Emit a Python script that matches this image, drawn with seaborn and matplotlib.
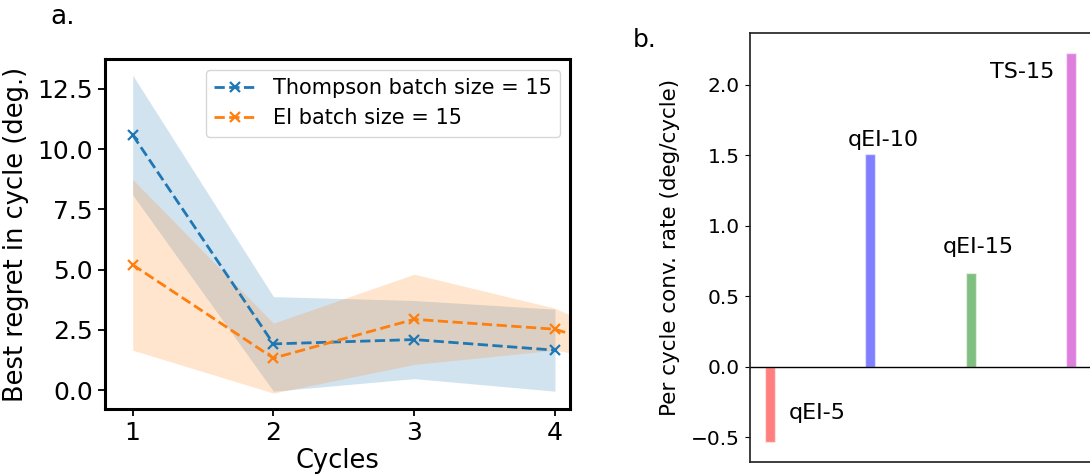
import numpy as np
import pandas as pd
import matplotlib
matplotlib.use("Agg")
import matplotlib.pyplot as plt
import seaborn as sns

# ---------------- data ----------------
cycles_ts = [1, 2, 3, 4]
ts_mean = [10.58, 1.92, 2.10, 1.66]
ts_std = [2.48, 1.96, 1.62, 1.70]

cycles_ei = [1, 2, 3, 4, 5]
ei_mean = [5.20, 1.33, 2.94, 2.53, 0.70]
ei_std = [3.54, 1.45, 1.87, 0.87, 0.10]

ts_label = "Thompson batch size = 15"
ei_label = "EI batch size = 15"

methods = ["qEI-5", "qEI-10", "qEI-15", "TS-15"]
rates = [-0.535, 1.508, 0.667, 2.227]
bar_colors = ["red", "blue", "green", "m"]

# annotation offsets relative to each bar top (layout only)
label_dx = [0.18, -0.224, -0.274, -0.807]
label_dy = [0.166, 0.057, 0.137, -0.184]

# ---------------- figure ----------------
sns.set_style("white")
plt.rcParams["font.family"] = ["DejaVu Sans"]
plt.rcParams["text.color"] = "black"
plt.rcParams["axes.labelcolor"] = "black"
plt.rcParams["xtick.color"] = "black"
plt.rcParams["ytick.color"] = "black"

fig = plt.figure(figsize=(10.9, 4.74), dpi=100)
ax1 = fig.add_axes([0.0959, 0.1371, 0.4272, 0.7378])
ax2 = fig.add_axes([0.6878, 0.0260, 0.3135, 0.9043])

c_ts = "#1f77b4"
c_ei = "#ff7f0e"

df_ts = pd.DataFrame({"cycle": cycles_ts, "regret": ts_mean})
df_ei = pd.DataFrame({"cycle": cycles_ei, "regret": ei_mean})

ts_lo = np.array(ts_mean) - np.array(ts_std)
ts_hi = np.array(ts_mean) + np.array(ts_std)
ei_lo = np.array(ei_mean) - np.array(ei_std)
ei_hi = np.array(ei_mean) + np.array(ei_std)

ax1.fill_between(cycles_ts, ts_lo, ts_hi, color=c_ts, alpha=0.2, linewidth=0)
ax1.fill_between(cycles_ei, ei_lo, ei_hi, color=c_ei, alpha=0.2, linewidth=0)

sns.lineplot(data=df_ts, x="cycle", y="regret", ax=ax1, color=c_ts,
             linestyle="--", marker="x", markersize=7, markeredgewidth=1.6,
             markeredgecolor=c_ts, markerfacecolor=c_ts,
             linewidth=2.0, label=ts_label, errorbar=None)
sns.lineplot(data=df_ei, x="cycle", y="regret", ax=ax1, color=c_ei,
             linestyle="--", marker="x", markersize=7, markeredgewidth=1.6,
             markeredgecolor=c_ei, markerfacecolor=c_ei,
             linewidth=2.0, label=ei_label, errorbar=None)

ax1.set_xlim(0.8, 4.108)
ax1.set_xticks(cycles_ts)
ax1.set_yticks([0.0, 2.5, 5.0, 7.5, 10.0, 12.5])
ax1.set_xlabel("Cycles", fontsize=18.5, labelpad=2)
ax1.set_ylabel("Best regret in cycle (deg.)", fontsize=18.5, labelpad=6)
ax1.tick_params(axis="both", labelsize=18, length=5, width=1.3,
                direction="out", left=True, bottom=True, colors="black")
for sp in ax1.spines.values():
    sp.set_color("black")
    sp.set_linewidth(2.2)
    sp.set_visible(True)
leg = ax1.legend(loc="upper right", fontsize=15, frameon=True,
                 framealpha=0.8, edgecolor="0.8", fancybox=True,
                 handlelength=2.0)
for t in leg.get_texts():
    t.set_color("black")

# ---------------- right panel ----------------
sns.barplot(x=methods, y=rates, hue=methods, palette=bar_colors,
            width=0.1, saturation=1, alpha=0.5, legend=False, ax=ax2)
ax2.axhline(0, color="black", linewidth=1.0)
ax2.set_xlim(-0.205, 3.205)
ax2.set_xticks([])
ax2.set_xlabel("")
ax2.set_yticks([-0.5, 0.0, 0.5, 1.0, 1.5, 2.0])
ax2.set_ylabel("Per cycle conv. rate (deg/cycle)", fontsize=15.5, labelpad=8)
ax2.tick_params(axis="y", labelsize=14.5, length=3.5, width=0.8,
                direction="out", left=True, colors="black")
for sp in ax2.spines.values():
    sp.set_color("0.15")
    sp.set_linewidth(1.25)
    sp.set_visible(True)

for i, (name, val) in enumerate(zip(methods, rates)):
    ax2.text(i + label_dx[i], val + label_dy[i], name, fontsize=16,
             ha="left", va="baseline", color="black")

fig.text(0.0465, 0.949, "a.", fontsize=19, ha="left", va="baseline")
fig.text(0.5805, 0.901, "b.", fontsize=18, ha="left", va="baseline")

fig.savefig("out.png", dpi=100)
